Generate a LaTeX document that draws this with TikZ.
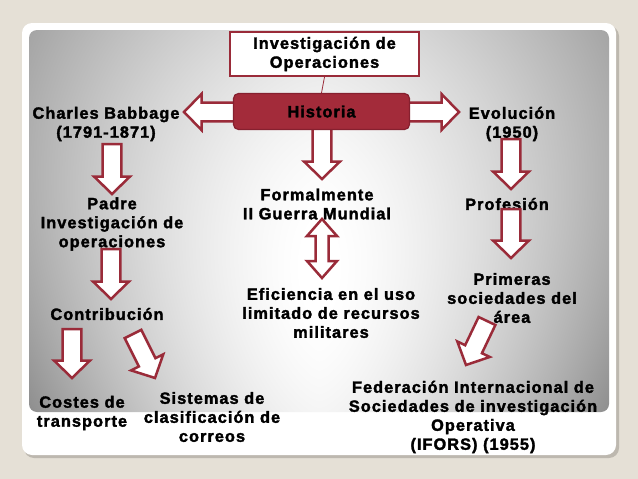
\documentclass[tikz,border=0pt]{standalone}
\usepackage{fontspec}
\newfontfamily\tf{Liberation Sans}[UprightFont={* Bold}, LetterSpace=6.5, FakeBold=2]
\usetikzlibrary{calc}
\definecolor{arrred}{HTML}{9A2B39}
\definecolor{histfill}{HTML}{A32B3A}
\definecolor{histdraw}{HTML}{86202F}
\definecolor{bgbeige}{HTML}{E5E0D6}
\definecolor{shadowc}{HTML}{BDB8AF}
% panel shading: bright centre, grey left and right, stronger at the bottom
% (TikZ fits the central 50bp of the shading to the path, so the panel is x,y in [-25bp,25bp])
\pgfdeclarefunctionalshading{panelshade}{\pgfpoint{-50bp}{-50bp}}{\pgfpoint{50bp}{50bp}}{}{%
  25 div exch 25 div abs dup 1 gt {pop 1} if dup sqrt mul 1 index -0.085 mul 0.32 add mul exch dup dup mul -0.08 mul exch -0.04 mul add 1 add exch sub dup dup}
\tikzset{
  lbl/.style={font=\tf\fontsize{16.3pt}{19pt}\selectfont, align=center, inner sep=0pt, text=black},
  arrowst/.style={draw=arrred, line width=2.5pt, fill=white, line join=miter, miter limit=4},
}
\def\sw{9.3pt}
\def\hw{18pt}
\def\hl{17.5pt}
% block arrow from #1 (start) to #2 (tip)
\newcommand\barrow[2]{%
  \coordinate (hb) at ($(#2)!\hl!(#1)$);
  \draw[arrowst] ($(#1)!\sw!90:(#2)$) -- ($(hb)!\sw!90:(#2)$) -- ($(hb)!\hw!90:(#2)$) -- (#2)
    -- ($(hb)!\hw!-90:(#2)$) -- ($(hb)!\sw!-90:(#2)$) -- ($(#1)!\sw!-90:(#2)$) -- cycle;}
\begin{document}
\begin{tikzpicture}[x=1pt,y=-1pt]
\useasboundingbox (0,0) rectangle (638,479);
\fill[bgbeige] (0,0) rectangle (638,479);
% card
\fill[shadowc, rounded corners=10pt] (24,26) rectangle (619,458);
\fill[white, rounded corners=10pt] (22,23) rectangle (616,455);
% panel
\begin{scope}
  \clip[rounded corners=8pt] (29,30) rectangle (609,412);
  \shade[shading=panelshade] (29,30) rectangle (609,412);
\end{scope}

% text nodes
\node[lbl] (cb) at (106,124) {Charles Babbage\\(1791-1871)};
\node[lbl] (ev) at (512,124) {Evolución\\(1950)};
\node[lbl] (padre) at (112,224) {Padre\\Investigación de\\operaciones};
\node[lbl] (contrib) at (107,314) {Contribución};
\node[lbl] (costes) at (82,413) {Costes de\\transporte};
\node[lbl] (sist) at (212,417) {Sistemas de\\clasificación de\\correos};
\node[lbl] (formal) at (317,204) {Formalmente\\II Guerra Mundial};
\node[lbl] (efic) at (331,313) {Eficiencia en el uso\\limitado de recursos\\militares};
\node[lbl] (prof) at (507,204) {Profesión};
\node[lbl] (prim) at (512,298) {Primeras\\sociedades del\\área};
\node[lbl] (fed) at (473,417) {Federación Internacional de\\Sociedades de investigación\\Operativa\\(IFORS) (1955)};

% arrow coordinates
\coordinate (a1s) at (240,112); \coordinate (a1t) at (184,112);
\coordinate (a2s) at (403,112); \coordinate (a2t) at (459,112);
\coordinate (a3s) at (112,144); \coordinate (a3t) at (112,194);
\coordinate (a4s) at (111,249); \coordinate (a4t) at (111,299);
\coordinate (a5s) at (72,329); \coordinate (a5t) at (72,378);
\coordinate (a6s) at (133,334); \coordinate (a6t) at (155,378);
\coordinate (a7s) at (322,125); \coordinate (a7t) at (322,179);
\coordinate (a9s) at (511,139); \coordinate (a9t) at (511,189);
\coordinate (a10s) at (511,209); \coordinate (a10t) at (511,258);
\coordinate (a11s) at (487,321); \coordinate (a11t) at (466,365);

\barrow{a1s}{a1t}
\barrow{a2s}{a2t}
\barrow{a3s}{a3t}
\barrow{a4s}{a4t}
\barrow{a5s}{a5t}
\barrow{a6s}{a6t}
\barrow{a7s}{a7t}
\barrow{a9s}{a9t}
\barrow{a10s}{a10t}
\barrow{a11s}{a11t}

% double arrow
\coordinate (dT) at (322,219); \coordinate (dB) at (322,278);
\coordinate (d1) at ($(dT)!17pt!(dB)$); \coordinate (d2) at ($(dB)!17pt!(dT)$);
\draw[arrowst] (dT) -- ($(d1)!15pt!90:(dB)$) -- ($(d1)!6.5pt!90:(dB)$) -- ($(d2)!6.5pt!90:(dB)$) -- ($(d2)!15pt!90:(dB)$) -- (dB)
  -- ($(d2)!15pt!-90:(dB)$) -- ($(d2)!6.5pt!-90:(dB)$) -- ($(d1)!6.5pt!-90:(dB)$) -- ($(d1)!15pt!-90:(dB)$) -- cycle;

% boxes
\node[lbl, draw=arrred, line width=2pt, fill=white, minimum width=189pt, minimum height=44pt] (io) at (324.5,54) {Investigación de\\Operaciones};
\node[lbl, draw=histdraw, line width=1.2pt, fill=histfill, rounded corners=5pt, minimum width=176pt, minimum height=36pt] (hist) at (321.5,111.5) {\raisebox{-1.5pt}{Historia}};
\draw[arrred, line width=0.8pt] (io.south) -- (hist.north);
\end{tikzpicture}
\end{document}
